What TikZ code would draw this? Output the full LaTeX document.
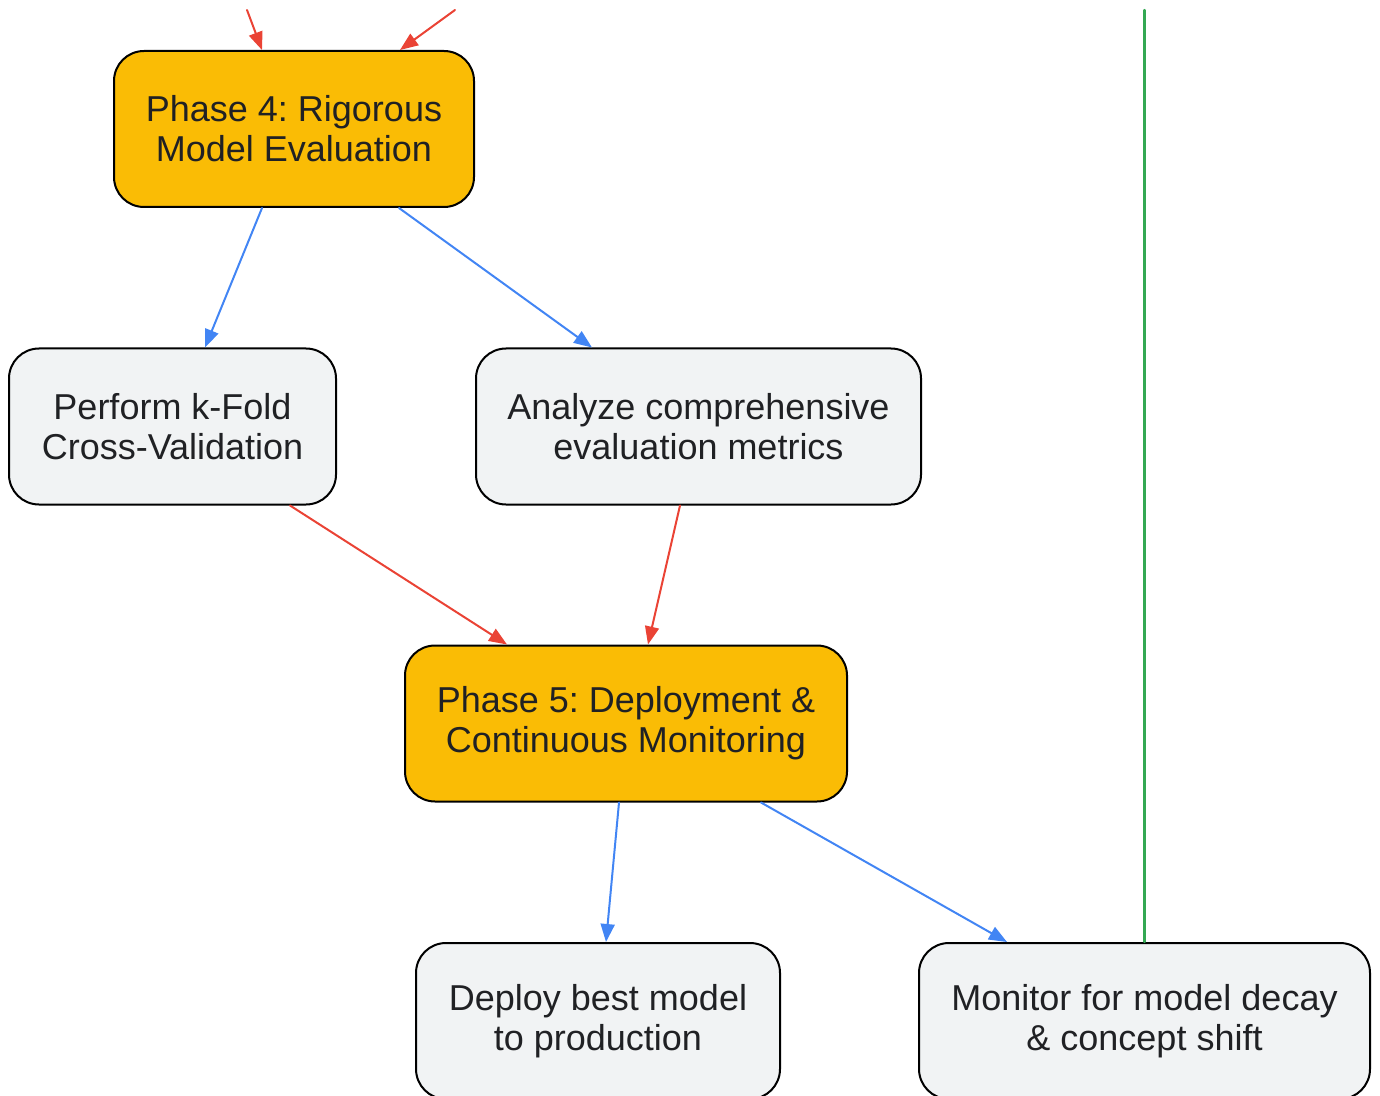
\documentclass[tikz,border=0pt]{standalone}
\usepackage{fontspec}
\setmainfont{Liberation Sans}
\usetikzlibrary{arrows.meta,calc}
\definecolor{phaseyellow}{HTML}{FABC05}
\definecolor{stepgray}{HTML}{F1F3F4}
\definecolor{txtgray}{HTML}{202124}
\definecolor{linered}{HTML}{EA4335}
\definecolor{lineblue}{HTML}{4285F4}
\definecolor{linegreen}{HTML}{34A853}
\frenchspacing
\begin{document}
\begin{tikzpicture}[x=0.5pt, y=-0.5pt, line join=round, line cap=round,
		font=\fontsize{18}{20}\selectfont, text=txtgray,
		>={Triangle[length=9pt,width=7pt]},
		box/.style={draw=black, line width=1pt, rounded corners=15pt, align=center, minimum height=78pt, inner sep=0pt},
		phase/.style={box, fill=phaseyellow},
		task/.style={box, fill=stepgray},
		redline/.style={->, draw=linered, line width=1pt},
		blueline/.style={->, draw=lineblue, line width=1pt},
		greenline/.style={draw=linegreen, line width=1.1pt}]
				\clip (0,0) rectangle (1380,1096);
				\path
				(247,10) coordinate (inA)
				(455,10) coordinate (inB)
				(1144.5,10) coordinate (up)
				;
				\node[phase, minimum width=180pt] (p4) at (294,129) {Phase 4: Rigorous\\Model Evaluation};
				\node[task, minimum width=163.5pt] (kfold) at (172.5,426.5) {Perform k-Fold\\Cross-Validation};
				\node[task, minimum width=222.5pt] (metrics) at (698.5,426.5) {Analyze comprehensive\\evaluation metrics};
				\node[phase, minimum width=221pt] (p5) at (626,723.5) {Phase 5: Deployment \&\\Continuous Monitoring};
				\node[task, minimum width=182pt] (deploy) at (598,1021) {Deploy best model\\to production};
				\node[task, minimum width=225.5pt] (monitor) at (1144.5,1021) {Monitor for model decay\\\& concept shift};
				
				\draw[redline] (inA) -- ($(p4.north)+(-32,0)$);
				\draw[redline] (inB) -- ($(p4.north)+(106,0)$);
				
				\draw[blueline] ($(p4.south)+(-32,0)$) -- ($(kfold.north)+(32.5,0)$);
				\draw[blueline] ($(p4.south)+(105,0)$) -- ($(metrics.north)+(-106.5,0)$);
				
				\draw[redline] ($(kfold.south)+(117.5,0)$) -- ($(p5.north)+(-119,0)$);
				\draw[redline] ($(metrics.south)+(-18.5,0)$) -- ($(p5.north)+(22,0)$);
				
				\draw[blueline] ($(p5.south)+(-7,0)$) -- ($(deploy.north)+(8,0)$);
				\draw[blueline] ($(p5.south)+(135,0)$) -- ($(monitor.north)+(-137.5,0)$);
				
				\draw[greenline] (monitor.north) -- (up);
		\end{tikzpicture}
\end{document}
